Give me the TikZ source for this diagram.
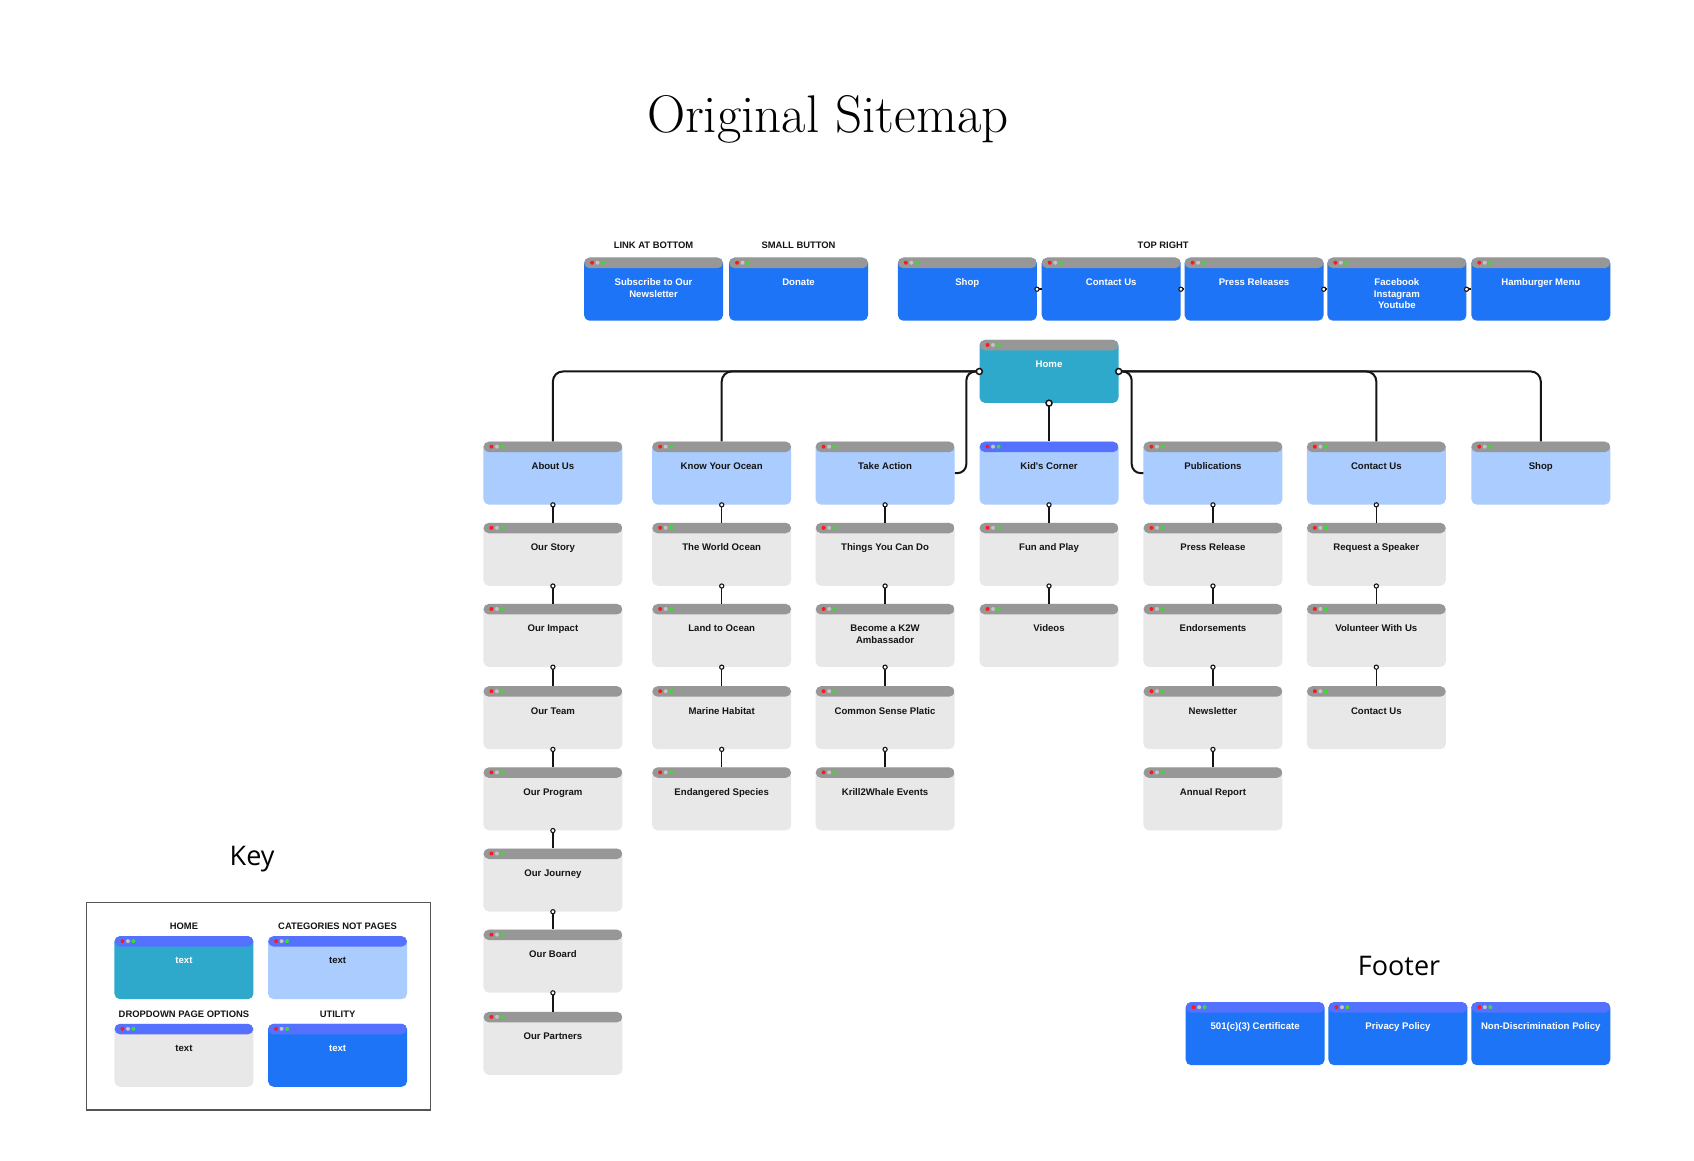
\documentclass[tikz,border=0pt]{standalone}
\usepackage{fontspec}
\newfontfamily\boxfont{Liberation Sans}
\newfontfamily\headfont{Open Sans}
\definecolor{hgray}{HTML}{979797}
\definecolor{hpurp}{HTML}{5571FF}
\definecolor{catb}{HTML}{AACCFE}
\definecolor{utilb}{HTML}{1E74F6}
\definecolor{homet}{HTML}{2EA8CB}
\definecolor{dropg}{HTML}{E8E8E8}
\definecolor{dotr}{HTML}{FF1A1A}
\definecolor{dotg}{HTML}{C4C4C4}
\definecolor{dotgr}{HTML}{3CDC2C}
\definecolor{ink}{HTML}{151515}
\definecolor{keyframe}{HTML}{555555}
\tikzset{
  pgbox/.style={rectangle, rounded corners=5.5pt, minimum width=139pt, minimum height=63pt, inner sep=0pt, anchor=north},
  hdr/.style={path picture={
    \fill[#1] ([yshift=1pt]path picture bounding box.north west) rectangle ([yshift=-10.5pt]path picture bounding box.north east);
    \fill[dotr] ([xshift=8pt,yshift=-5pt]path picture bounding box.north west) circle (2pt);
    \fill[dotg] ([xshift=13.5pt,yshift=-5pt]path picture bounding box.north west) circle (2pt);
    \fill[dotgr] ([xshift=19pt,yshift=-5pt]path picture bounding box.north west) circle (2pt);}},
  catbox/.style={pgbox, fill=catb, hdr=hgray},
  catpbox/.style={pgbox, fill=catb, hdr=hpurp},
  dropbox/.style={pgbox, fill=dropg, hdr=hgray},
  droppbox/.style={pgbox, fill=dropg, hdr=hpurp},
  utilbox/.style={pgbox, fill=utilb, hdr=hgray},
  utilpbox/.style={pgbox, fill=utilb, hdr=hpurp},
  homebox/.style={pgbox, fill=homet, hdr=hgray},
  homepbox/.style={pgbox, fill=homet, hdr=hpurp},
  dk/.style={text=ink, font=\boxfont\bfseries\fontsize{9.6}{11.7}\selectfont, align=center, anchor=north, inner sep=0pt},
  wt/.style={dk, text=white},
  captext/.style={text=ink, font=\boxfont\bfseries\fontsize{9.4}{11}\selectfont, inner sep=0pt},
  bigtext/.style={text=black, font=\headfont\fontsize{27}{32}\selectfont, inner sep=0pt},
  mainline/.style={draw=ink, line width=2pt},
  vline/.style={draw=ink, line width=1.5pt},
  portbig/.style={draw=ink, fill=white, line width=1.5pt},
  portsm/.style={draw=ink, fill=white, line width=1.1pt},
}
\newcommand{\sitebox}[6]{\node[#4] (#1) at (#2,#3) {};\node[#5] (#1t) at ([yshift=-20pt]#1.north) {\rule{0pt}{7.8pt}#6};}
\newcommand{\vlink}[2]{\draw[vline] (#1.south) -- (#2.north);\filldraw[portsm] (#1.south) circle (2.1pt);}
\newcommand{\hlink}[2]{\draw[vline] (#1.east) -- (#2.west);\filldraw[portsm] (#1.east) circle (2.1pt);}
\begin{document}
\begin{tikzpicture}[x=1.082pt,y=-1.082pt]
\useasboundingbox[fill=white] (0,0) rectangle (1565.6,1072.1);
% title
\node[text=black, font=\rmfamily\fontsize{53}{58}\selectfont, inner sep=0pt] (title) at (765,110) {Original Sitemap};
% top utility row
\node[captext] (capA) at (604,227) {LINK AT BOTTOM};
\node[captext] (capB) at (738,227) {SMALL BUTTON};
\node[captext] (capC) at (1075,227) {TOP RIGHT};
\sitebox{uSub}{604}{238}{utilbox}{wt}{Subscribe to Our\\Newsletter}
\sitebox{uDon}{738}{238}{utilbox}{wt}{Donate}
\sitebox{uShop}{894}{238}{utilbox}{wt}{Shop}
\sitebox{uCon}{1027}{238}{utilbox}{wt}{Contact Us}
\sitebox{uPress}{1159}{238}{utilbox}{wt}{Press Releases}
\sitebox{uSoc}{1291}{238}{utilbox}{wt}{Facebook\\Instagram\\Youtube}
\sitebox{uHam}{1424}{238}{utilbox}{wt}{Hamburger Menu}
% home
\sitebox{home}{969.5}{314}{homebox}{wt}{Home}
% categories
\sitebox{c1}{511}{408}{catbox}{dk}{About Us}
\sitebox{c2}{667}{408}{catbox}{dk}{Know Your Ocean}
\sitebox{c3}{818}{408}{catbox}{dk}{Take Action}
\sitebox{c4}{969.5}{408}{catpbox}{dk}{Kid's Corner}
\sitebox{c5}{1121}{408}{catbox}{dk}{Publications}
\sitebox{c6}{1272}{408}{catbox}{dk}{Contact Us}
\sitebox{c7}{1424}{408}{catbox}{dk}{Shop}
% column 1
\sitebox{a1}{511}{483}{dropbox}{dk}{Our Story}
\sitebox{a2}{511}{558}{dropbox}{dk}{Our Impact}
\sitebox{a3}{511}{634}{dropbox}{dk}{Our Team}
\sitebox{a4}{511}{709}{dropbox}{dk}{Our Program}
\sitebox{a5}{511}{784}{dropbox}{dk}{Our Journey}
\sitebox{a6}{511}{859}{dropbox}{dk}{Our Board}
\sitebox{a7}{511}{935}{dropbox}{dk}{Our Partners}
% column 2
\sitebox{b1}{667}{483}{dropbox}{dk}{The World Ocean}
\sitebox{b2}{667}{558}{dropbox}{dk}{Land to Ocean}
\sitebox{b3}{667}{634}{dropbox}{dk}{Marine Habitat}
\sitebox{b4}{667}{709}{dropbox}{dk}{Endangered Species}
% column 3
\sitebox{t1}{818}{483}{dropbox}{dk}{Things You Can Do}
\sitebox{t2}{818}{558}{dropbox}{dk}{Become a K2W\\Ambassador}
\sitebox{t3}{818}{634}{dropbox}{dk}{Common Sense Platic}
\sitebox{t4}{818}{709}{dropbox}{dk}{Krill2Whale Events}
% column 4
\sitebox{k1}{969.5}{483}{dropbox}{dk}{Fun and Play}
\sitebox{k2}{969.5}{558}{dropbox}{dk}{Videos}
% column 5
\sitebox{p1}{1121}{483}{dropbox}{dk}{Press Release}
\sitebox{p2}{1121}{558}{dropbox}{dk}{Endorsements}
\sitebox{p3}{1121}{634}{dropbox}{dk}{Newsletter}
\sitebox{p4}{1121}{709}{dropbox}{dk}{Annual Report}
% column 6
\sitebox{s1}{1272}{483}{dropbox}{dk}{Request a Speaker}
\sitebox{s2}{1272}{558}{dropbox}{dk}{Volunteer With Us}
\sitebox{s3}{1272}{634}{dropbox}{dk}{Contact Us}
% key
\node[bigtext] (keyt) at (233,794) {Key};
\draw[draw=keyframe, line width=1.4pt] (80,834) rectangle (398,1026);
\node[captext] (kcap1) at (170,856) {HOME};
\node[captext] (kcap2) at (312,856) {CATEGORIES NOT PAGES};
\node[captext] (kcap3) at (170,937) {DROPDOWN PAGE OPTIONS};
\node[captext] (kcap4) at (312,937) {UTILITY};
\sitebox{kh}{170}{865}{homepbox}{wt}{text}
\sitebox{kc}{312}{865}{catpbox}{dk}{text}
\sitebox{kd}{170}{946}{droppbox}{dk}{text}
\sitebox{ku}{312}{946}{utilpbox}{wt}{text}
% footer
\node[bigtext] (foott) at (1293,893) {Footer};
\sitebox{f1}{1160}{926}{utilpbox}{wt}{501(c)(3) Certificate}
\sitebox{f2}{1292}{926}{utilpbox}{wt}{Privacy Policy}
\sitebox{f3}{1424}{926}{utilpbox}{wt}{Non-Discrimination Policy}
% main connectors
\draw[mainline, rounded corners=10pt] (home.west) -| (c1.north);
\draw[mainline, rounded corners=10pt] (home.west) -| (c2.north);
\draw[mainline, rounded corners=9pt] (home.west) -- ++(-12,0) |- (c3.east);
\draw[mainline] (home.south) -- (c4.north);
\draw[mainline, rounded corners=9pt] (home.east) -- ++(12,0) |- (c5.west);
\draw[mainline, rounded corners=10pt] (home.east) -| (c6.north);
\draw[mainline, rounded corners=10pt] (home.east) -| (c7.north);
\filldraw[portbig] (home.west) circle (3pt);
\filldraw[portbig] (home.east) circle (3pt);
\filldraw[portbig] (home.south) circle (3pt);
% column links
\vlink{c1}{a1}\vlink{a1}{a2}\vlink{a2}{a3}\vlink{a3}{a4}\vlink{a4}{a5}\vlink{a5}{a6}\vlink{a6}{a7}
\vlink{c2}{b1}\vlink{b1}{b2}\vlink{b2}{b3}\vlink{b3}{b4}
\vlink{c3}{t1}\vlink{t1}{t2}\vlink{t2}{t3}\vlink{t3}{t4}
\vlink{c4}{k1}\vlink{k1}{k2}
\vlink{c5}{p1}\vlink{p1}{p2}\vlink{p2}{p3}\vlink{p3}{p4}
\vlink{c6}{s1}\vlink{s1}{s2}\vlink{s2}{s3}
% top row links
\hlink{uShop}{uCon}\hlink{uCon}{uPress}\hlink{uPress}{uSoc}\hlink{uSoc}{uHam}
\end{tikzpicture}
\end{document}
